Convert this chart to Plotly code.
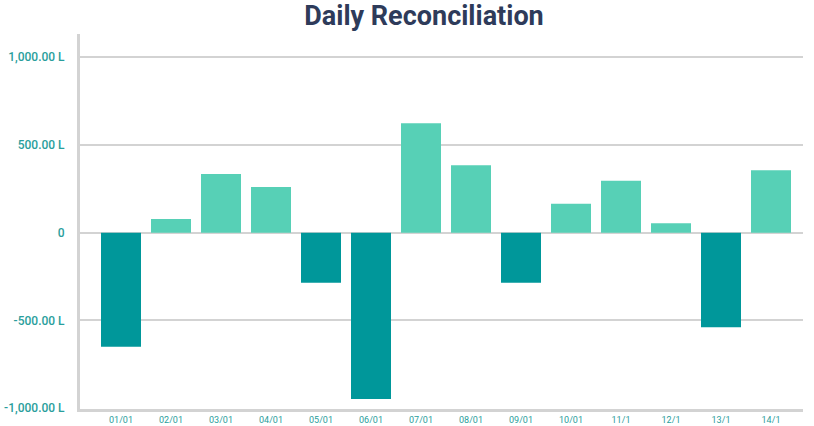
import plotly.graph_objects as go

# Daily reconciliation balances (litres)
days = ["01/01", "02/01", "03/01", "04/01", "05/01", "06/01", "07/01",
        "08/01", "09/01", "10/01", "11/1", "12/1", "13/1", "14/1"]
balance = [-650, 78, 334, 260, -285, -948, 623, 384, -285, 165, 296, 54, -539, 356]

y_tick_vals = [1000, 500, 0, -500, -1000]
y_tick_text = ["1,000.00 L", "500.00 L", "0", "-500.00 L", "-1,000.00 L"]

POS_COLOR = "#57D0B6"
NEG_COLOR = "#00979A"
TEXT_TEAL = "#2A9E9C"

colors = [POS_COLOR if v >= 0 else NEG_COLOR for v in balance]
x_idx = list(range(len(days)))

fig = go.Figure(
    go.Bar(
        x=x_idx,
        y=balance,
        width=0.8,
        marker=dict(color=colors, line=dict(width=0)),
        hovertemplate="%{text}: %{y:,.2f} L<extra></extra>",
        text=days,
        textposition="none",
    )
)

W, H = 814, 426
left, right, top, bottom = 80, 11, 34, 17

fig.update_layout(
    width=W,
    height=H,
    margin=dict(l=left, r=right, t=top, b=bottom, autoexpand=False),
    paper_bgcolor="white",
    plot_bgcolor="white",
    showlegend=False,
    bargap=0.2,
    title=dict(
        text="<b>Daily Reconciliation</b>",
        x=424 / W,
        xanchor="center",
        y=1 - 16 / H,
        yanchor="middle",
        font=dict(family="Liberation Sans Narrow, Roboto, sans-serif", size=27, color="#2E3B5A"),
    ),
    xaxis=dict(
        range=[-0.82, 13.64],
        tickmode="array",
        tickvals=x_idx,
        ticktext=days,
        showgrid=False,
        zeroline=False,
        showline=True,
        linecolor="#D3D3D3",
        linewidth=3,
        ticks="",
        tickfont=dict(family="Roboto, sans-serif", size=9, color=TEXT_TEAL),
        fixedrange=True,
    ),
    yaxis=dict(
        range=[-1005, 1132],
        tickmode="array",
        tickvals=y_tick_vals,
        ticktext=y_tick_text,
        showgrid=True,
        gridcolor="#D3D3D3",
        gridwidth=1.5,
        zeroline=True,
        zerolinecolor="#D3D3D3",
        zerolinewidth=1.5,
        showline=True,
        linecolor="#D3D3D3",
        linewidth=3,
        ticks="",
        ticklabelstandoff=10,
        tickfont=dict(family="Roboto, sans-serif", size=12, color=TEXT_TEAL, weight=500),
        fixedrange=True,
    ),
)

fig.write_html("out.html")
